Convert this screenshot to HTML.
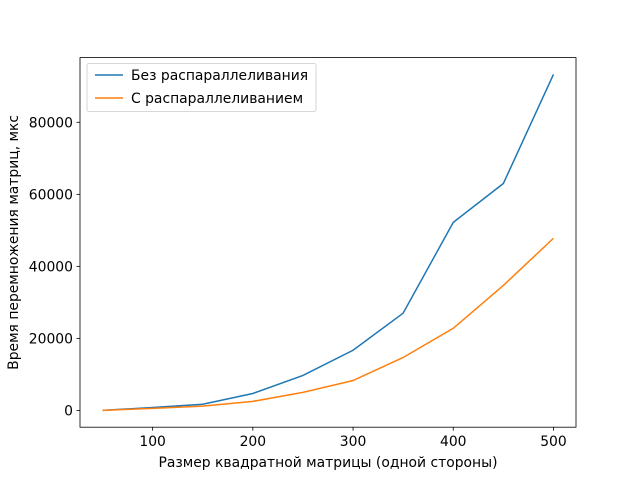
<!DOCTYPE html>
<html><head><meta charset="utf-8"><style>body{margin:0;background:#fff}svg{display:block;font-family:"DejaVu Sans","Liberation Sans",sans-serif}</style></head>
<body>
<svg id="chart" width="640" height="480"></svg>
<script>
const xValues=[50,100,150,200,250,300,350,400,450,500];
const seriesNoPar=[0,800,1700,4700,9700,16700,27000,52200,63000,93300];
const seriesPar=[0,550,1200,2500,5000,8300,14700,22800,34700,47800];
const xTicks=[100,200,300,400,500];
const yTicks=[0,20000,40000,60000,80000];
const seriesNames=["Без распараллеливания","С распараллеливанием"];
const L=80,R=576,T=57.6,B=427.2;
const xmin=27.5,xmax=522.5,ymin=-4665,ymax=97965;
const sx=v=>L+(v-xmin)/(xmax-xmin)*(R-L);
const sy=v=>B-(v-ymin)/(ymax-ymin)*(B-T);
const svg=document.getElementById('chart');
const NS='http://www.w3.org/2000/svg';
const FS=13.9;
function mk(tag,attrs,parent){const e=document.createElementNS(NS,tag);for(const k in attrs)e.setAttribute(k,attrs[k]);(parent||svg).appendChild(e);return e;}
const colors=['#1f77b4','#ff7f0e'];
[seriesNoPar,seriesPar].forEach((s,i)=>{
 const p=mk('polyline',{points:s.map((v,j)=>sx(xValues[j])+','+sy(v)).join(' '),fill:'none',stroke:colors[i],'stroke-width':1.5});
 
 
});
const frame=mk('rect',{x:L,y:T,width:R-L,height:B-T,fill:'none',stroke:'#000','stroke-width':0.8});


xTicks.forEach(v=>{
 mk('line',{x1:sx(v),x2:sx(v),y1:B,y2:B+3.5,stroke:'#000','stroke-width':0.8});
 const t=mk('text',{x:sx(v),y:B+19,'text-anchor':'middle','font-size':FS});t.textContent=v;
 
 
});
yTicks.forEach(v=>{
 mk('line',{x1:L-3.5,x2:L,y1:sy(v),y2:sy(v),stroke:'#000','stroke-width':0.8});
 const t=mk('text',{x:L-7,y:sy(v)+5,'text-anchor':'end','font-size':FS});t.textContent=v;
 
 
});
const xt=mk('text',{x:(L+R)/2,y:467,'text-anchor':'middle','font-size':FS});xt.textContent='Размер квадратной матрицы (одной стороны)';


const yt=mk('text',{x:0,y:0,'text-anchor':'middle','font-size':FS,transform:`translate(18,${(T+B)/2}) rotate(-90)`});yt.textContent='Время перемножения матриц, мкс';


const lg=mk('g',{});


mk('rect',{x:87,y:63.5,width:229,height:48,rx:2,fill:'#fff',stroke:'#ccc','stroke-width':0.8},lg);
seriesNames.forEach((n,i)=>{
 const y=75+i*23;
 mk('line',{x1:95,x2:123,y1:y,y2:y,stroke:colors[i],'stroke-width':1.5},lg);
 const t=mk('text',{x:131,y:y+5,'font-size':FS},lg);t.textContent=n;
 
 
});
</script>
</body></html>
